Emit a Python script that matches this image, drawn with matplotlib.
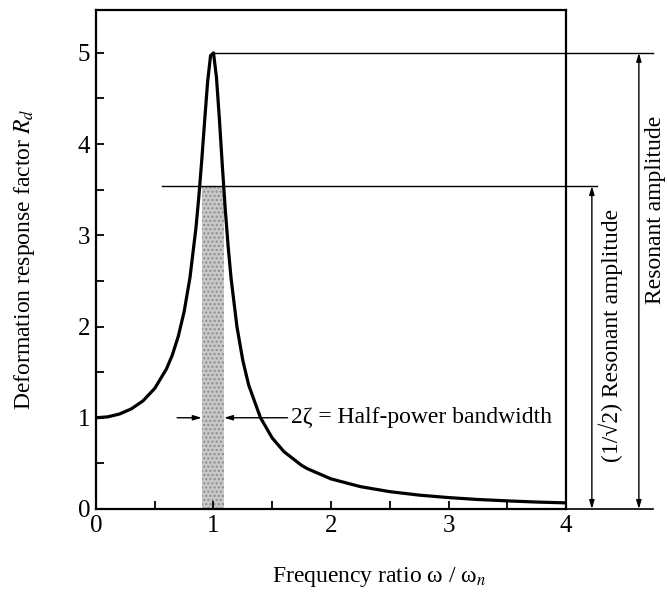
import numpy as np
import matplotlib
matplotlib.use('Agg')
import matplotlib.pyplot as plt

plt.rcParams['font.family'] = ['Liberation Serif', 'DejaVu Serif']
plt.rcParams['mathtext.fontset'] = 'stix'

# curve (zeta = 0.1)
r = [0.0, 0.1, 0.2, 0.3, 0.4, 0.5, 0.6, 0.65, 0.7, 0.75, 0.8, 0.85, 0.875,
     0.9, 0.925, 0.95, 0.975, 1.0, 1.025, 1.05, 1.075, 1.1, 1.125, 1.15,
     1.2, 1.25, 1.3, 1.4, 1.5, 1.6, 1.75, 1.8, 2.0, 2.25, 2.5, 2.75, 3.0,
     3.25, 3.5, 3.75, 4.0]
Rd = [1.0, 1.010, 1.041, 1.097, 1.185, 1.322, 1.536, 1.689, 1.891, 2.162,
      2.538, 3.073, 3.419, 3.821, 4.261, 4.682, 4.971, 5.0, 4.736, 4.279,
      3.768, 3.288, 2.873, 2.525, 1.995, 1.625, 1.356, 1.0, 0.778, 0.628,
      0.478, 0.441, 0.330, 0.245, 0.190, 0.152, 0.125, 0.104, 0.089, 0.076,
      0.067]

peak = 5.0
half_power = 3.54
band = [0.90, 1.09]

xticks = [0, 1, 2, 3, 4]
yticks = [0, 1, 2, 3, 4, 5]

fig = plt.figure(figsize=(6.67, 5.96), dpi=100)
ax = fig.add_axes([0.1439, 0.146, 0.7047, 0.8372])

# shaded half-power band
ax.fill_between(band, 0, half_power, color='#c8c8c8', hatch='....',
                edgecolor='#8c8c8c', linewidth=0)

ax.plot(r, Rd, color='black', lw=2.3, solid_capstyle='round')

# reference lines past the axes
ax.plot([1.0, 4.74], [peak, peak], color='black', lw=1.0, clip_on=False)
ax.plot([0.56, 4.26], [half_power, half_power], color='black', lw=1.0, clip_on=False)
ax.plot([4.0, 4.74], [0, 0], color='black', lw=1.2, clip_on=False)

# dimension arrows
aprops = dict(arrowstyle='<|-|>,head_length=0.5,head_width=0.15', color='black',
              lw=1.0, shrinkA=0, shrinkB=0)
ax.annotate('', xy=(4.22, 0), xytext=(4.22, half_power), arrowprops=aprops,
            annotation_clip=False)
ax.annotate('', xy=(4.62, 0), xytext=(4.62, peak), arrowprops=aprops,
            annotation_clip=False)
ax.text(4.385, 1.9, '(1/\u221a2) Resonant amplitude', rotation=90, fontsize=17,
        ha='center', va='center', clip_on=False)
ax.text(4.765, 3.28, 'Resonant amplitude', rotation=90, fontsize=17,
        ha='center', va='center', clip_on=False)

# half-power bandwidth arrows
bprops = dict(arrowstyle='-|>,head_length=0.5,head_width=0.15', color='black',
              lw=1.0, shrinkA=0, shrinkB=0)
ax.annotate('', xy=(band[0], 1.0), xytext=(0.69, 1.0), arrowprops=bprops)
ax.annotate('', xy=(band[1], 1.0), xytext=(1.63, 1.0), arrowprops=bprops)
ax.text(1.66, 1.0, '2\u03b6 = Half-power bandwidth', fontsize=17,
        ha='left', va='center')

ax.set_xlim(0, 4)
ax.set_ylim(0, 5.47)
ax.set_xticks(xticks)
ax.set_yticks(yticks)
ax.set_xticks(np.arange(0.5, 4, 1.0), minor=True)
ax.set_yticks(np.arange(0.5, 5.5, 1.0), minor=True)
ax.tick_params(which='both', direction='in', length=6, width=1.3,
               labelsize=18, pad=4)
for s in ax.spines.values():
    s.set_linewidth(1.6)

fig.text(379 / 667, 1 - 577 / 596, 'Frequency ratio \u03c9 / \u03c9$_n$',
         fontsize=17, ha='center', va='center')
ax.set_ylabel('Deformation response factor $R_d$', fontsize=17)
ax.yaxis.set_label_coords(-0.125, 0.5)

fig.savefig('out.png', dpi=100)
